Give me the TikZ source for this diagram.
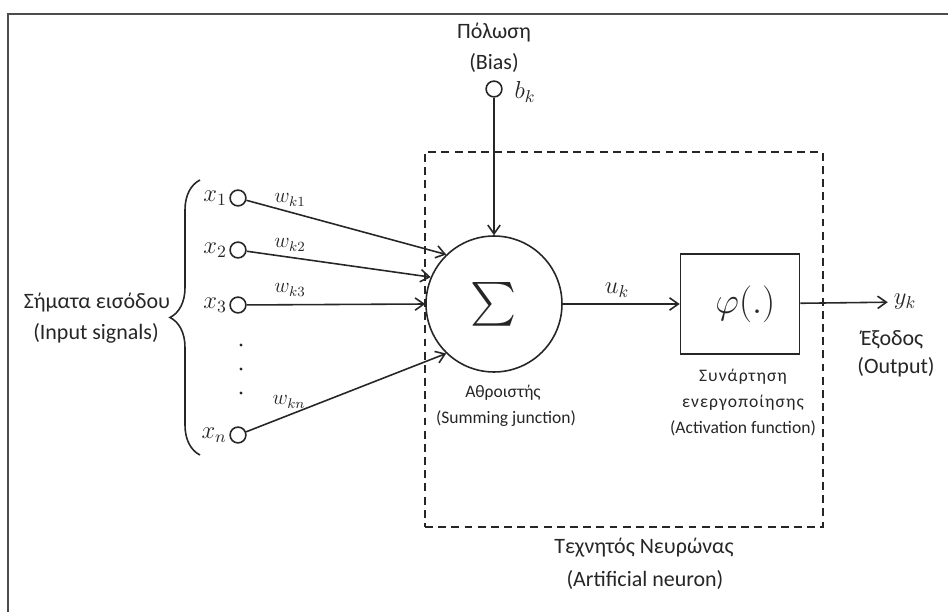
\RequirePackage{fix-cm}
\documentclass[tikz,border=0pt]{standalone}
\usepackage{amsmath}
\usepackage{fontspec}
\setmainfont{Carlito}
\newfontfamily\spacedfont[LetterSpace=6]{Carlito}
\usetikzlibrary{arrows.meta,decorations.pathreplacing}

\begin{document}
\begin{tikzpicture}[x=0.02cm, y=-0.02cm, line width=0.9pt, color=black!85,
    >={Straight Barb[length=5pt,width=7pt]},
    every node/.style={font=\fontsize{12.5}{15}\selectfont},
    inp/.style={draw, circle, inner sep=0pt, minimum size=9pt},
    sml/.style={font=\fontsize{10}{12}\selectfont},
    mth/.style={font=\fontsize{14}{17}\selectfont, inner sep=1pt},
    wgt/.style={font=\fontsize{12}{14}\selectfont}]
      \useasboundingbox (0,0) rectangle (948,612);
      \draw[line width=1.5pt, black!70] (8,612) -- (8,14) -- (948,14);
      % neuron
      \node[draw, dash pattern=on 4.5pt off 3pt, minimum width=7.96cm, minimum height=7.5cm] (neuron) at (624,339.5) {};
      \node[draw, circle, minimum size=2.72cm, inner sep=0pt] (sum) at (494,304) {\fontsize{25}{30}\selectfont$\sum$};
      \node[draw, minimum width=2.38cm, minimum height=2cm] (act) at (740,304) {\fontsize{21}{25}\selectfont\hspace{6pt}$\varphi(.)$};
      \node[mth] (uk) at (617,290) {$u_k$};
      \node[mth, inner sep=3pt] (yk) at (905,302) {$y_k$};
      % bias
      \node[inp] (bias) at (494,89) {};
      \node[mth, anchor=west] (bk) at (512,92) {$b_k$};
      \node (bias1) at (494,33) {Πόλωση};
      \node (bias2) at (494,63) {(Bias)};
      % inputs
      \node[inp] (x1) at (238,198) {};
      \node[inp] (x2) at (238,250) {};
      \node[inp] (x3) at (238,305) {};
      \node[inp] (xn) at (238,435) {};
      \node[mth, anchor=east] (lx1) at (x1.west) {$x_1$};
      \node[mth, anchor=east] (lx2) at (x2.west) {$x_2$};
      \node[mth, anchor=east] (lx3) at (x3.west) {$x_3$};
      \node[mth, anchor=east] (lxn) at (xn.west) {$x_n$};
      \foreach \y in {345,369,393} \fill (241,\y) circle (0.9pt);
      \node[wgt] (w1) at (290,200) {$w_{k1}$};
      \node[wgt] (w2) at (290,245) {$w_{k2}$};
      \node[wgt] (w3) at (290,290) {$w_{k3}$};
      \node[wgt] (wn) at (289,402) {$w_{kn}$};
      \coordinate (brb) at (200,455);
      \coordinate (brt) at (200,180);
      \draw[decorate, decoration={brace, amplitude=0.6cm}] (brb) -- (brt);
      % connectors
      \draw[->] (x1) -- (sum.134);
      \draw[->] (x2) -- (sum.157);
      \draw[->] (x3) -- (sum.west);
      \draw[->] (xn) -- (sum.226);
      \draw[->] (bias) -- (sum);
      \draw[->] (sum) -- (act);
      \draw[->] (act) -- (yk);
      % labels
      \node (sig1) at (97,303) {Σήματα εισόδου};
      \node (sig2) at (96,333) {(Input signals)};
      \node[sml] (sj1) at (503,393) {Αθροιστής};
      \node[sml] (sj2) at (506,419) {(Summing junction)};
      \node[sml, font=\spacedfont\fontsize{10}{12}\selectfont] (af1) at (743,377) {Συνάρτηση};
      \node[sml, font=\spacedfont\fontsize{10}{12}\selectfont] (af2) at (743,403) {ενεργοποίησης};
      \node[sml] (af3) at (743,428) {(Activation function)};
      \node (out1) at (892,340) {Έξοδος};
      \node (out2) at (896,367) {(Output)};
      \node (nn1) at (644,548) {Τεχνητός Νευρώνας};
      \node (nn2) at (645,580) {(Artificial neuron)};
    \end{tikzpicture}
\end{document}
